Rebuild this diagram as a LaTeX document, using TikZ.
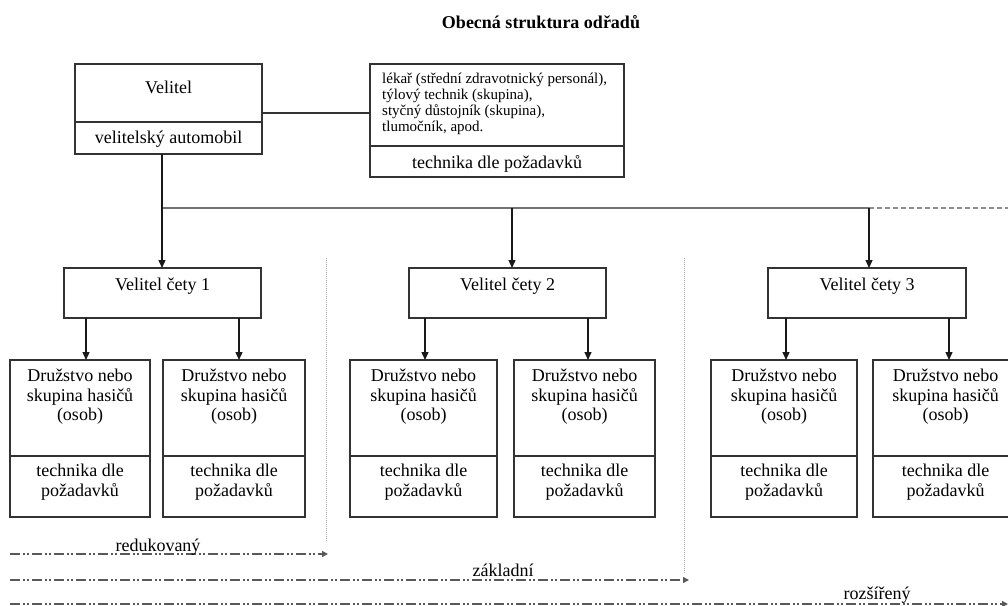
\documentclass[tikz,border=0pt]{standalone}
\usepackage{fontspec}
\setmainfont{Liberation Serif}
\usetikzlibrary{arrows.meta}
\newcommand\teambox[3]{%
  \node[box, minimum width=#3pt, minimum height=96pt] (#1a) at (#2,360) {};
  \node[box, minimum width=#3pt, minimum height=61pt] (#1b) at (#2,456) {};
  \node[txt] (#1at) at ([yshift=-9pt]#1a.north) {Družstvo nebo\\skupina hasičů\\(osob)};
  \node[txt] (#1bt) at ([yshift=-8pt]#1b.north) {technika dle\\požadavků};
}
\begin{document}
\begin{tikzpicture}[x=1pt,y=-1pt,
  box/.style={draw=black!80, line width=1.2pt, inner sep=0pt, outer sep=0pt, anchor=north west},
  txt/.style={font=\fontsize{18}{19.5}\selectfont, align=center, inner sep=0pt, anchor=north},
  lbl/.style={font=\fontsize{18}{20}\selectfont, inner sep=0pt, anchor=base},
  small/.style={font=\fontsize{15}{16}\selectfont, align=left, inner sep=0pt, anchor=north west},
  arr/.style={draw=black!90, line width=1.3pt, -{Triangle[length=8pt,width=7pt]}},
  busline/.style={draw=black!55, line width=1.2pt},
  busdash/.style={draw=black!45, line width=1.2pt, dash pattern=on 5pt off 3pt},
  ddd/.style={draw=black!65, line width=1.4pt, dash pattern=on 10pt off 3pt on 1.5pt off 2.5pt on 1.5pt off 3.5pt, -{Triangle[length=6pt,width=6pt]}},
  vdot/.style={draw=black!35, line width=0.8pt, dash pattern=on 1pt off 1pt},
]
\useasboundingbox (0,0) rectangle (1008,605);

% title
\node[font=\fontsize{18}{20}\selectfont\bfseries, inner sep=0pt, anchor=base] (title) at (541,28) {Obecná struktura odřadů};

% commander
\node[box, minimum width=187pt, minimum height=58pt] (vt) at (75,64) {};
\node[box, minimum width=187pt, minimum height=32pt] (vb) at (75,122) {};
\node[lbl] (vtt) at (168.5,93) {Velitel};
\node[lbl] (vbt) at (168.5,143) {velitelský automobil};

% staff box
\node[box, minimum width=254pt, minimum height=82pt] (rt) at (370,64) {};
\node[box, minimum width=254pt, minimum height=31pt] (rb) at (370,146) {};
\node[small] (rtt) at (382,73) {lékař (střední zdravotnický personál),\\týlový technik (skupina),\\styčný důstojník (skupina),\\tlumočník, apod.};
\node[lbl] (rbt) at (497,168) {technika dle požadavků};

\coordinate (h) at (0,113);
\draw[draw=black!80, line width=1.2pt] (vt.east |- h) -- (rt.west |- h);

% platoon commanders
\node[box, minimum width=197pt, minimum height=50pt] (c1) at (64,268) {};
\node[box, minimum width=197pt, minimum height=50pt] (c2) at (409,268) {};
\node[box, minimum width=198pt, minimum height=50pt] (c3) at (768,268) {};
\node[lbl] (c1t) at (162.5,290) {Velitel čety 1};
\node[lbl] (c2t) at (507.5,290) {Velitel čety 2};
\node[lbl] (c3t) at (867,290) {Velitel čety 3};

% bus
\coordinate (b0) at (162,208);
\coordinate (bE) at (1008,208);
\coordinate (a1) at (162,268);
\coordinate (a2) at (512,268);
\coordinate (a3) at (869,268);
\draw[busline] (b0) -- (b0 -| a3);
\draw[busdash] (b0 -| a3) -- (bE);
\draw[arr] (vb.south -| a1) -- (a1);
\draw[arr] (b0 -| a2) -- (a2);
\draw[arr] (b0 -| a3) -- (a3);

% teams
\teambox{tA}{10}{140}
\teambox{tB}{163}{142}
\teambox{tC}{350}{147}
\teambox{tD}{514}{141}
\teambox{tE}{711}{146}
\teambox{tF}{873}{145}

\coordinate (p1) at (86,360);
\coordinate (p2) at (239,360);
\coordinate (p3) at (425,360);
\coordinate (p4) at (588,360);
\coordinate (p5) at (786,360);
\coordinate (p6) at (949,360);
\draw[arr] (c1.south -| p1) -- (p1);
\draw[arr] (c1.south -| p2) -- (p2);
\draw[arr] (c2.south -| p3) -- (p3);
\draw[arr] (c2.south -| p4) -- (p4);
\draw[arr] (c3.south -| p5) -- (p5);
\draw[arr] (c3.south -| p6) -- (p6);

% dotted separators
\coordinate (d1t) at (326,258);
\coordinate (d1b) at (326,542);
\coordinate (d2t) at (684,258);
\coordinate (d2b) at (684,573);
\draw[vdot] (d1t) -- (d1b);
\draw[vdot] (d2t) -- (d2b);

% size arrows
\coordinate (r0) at (10,554);
\coordinate (r1) at (328,554);
\coordinate (z0) at (10,580);
\coordinate (z1) at (689,580);
\coordinate (e0) at (10,604);
\coordinate (e1) at (1008,604);
\draw[ddd] (r0) -- (r1);
\draw[ddd] (z0) -- (z1);
\draw[ddd] (e0) -- (e1);
\node[lbl] (rl) at (158,551) {redukovaný};
\node[lbl] (zl) at (503,576) {základní};
\node[lbl] (el) at (877,599) {rozšířený};
\end{tikzpicture}
\end{document}
